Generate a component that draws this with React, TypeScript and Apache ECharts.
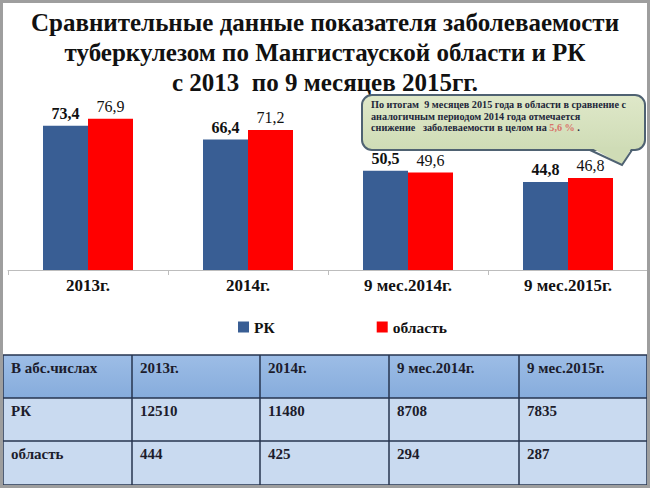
import { useRef, useEffect } from "react";
import * as echarts from "echarts";

const CATEGORIES = ["2013г.", "2014г.", "9 мес.2014г.", "9 мес.2015г."];
const RK_VALUES = [73.4, 66.4, 50.5, 44.8];
const REGION_VALUES = [76.9, 71.2, 49.6, 46.8];
const SERIES_NAMES = ["РК", "область"];

const TABLE_HEAD = ["В абс.числах", "2013г.", "2014г.", "9 мес.2014г.", "9 мес.2015г."];
const TABLE_RK = [12510, 11480, 8708, 7835];
const TABLE_REGION = [444, 425, 294, 287];

const TITLE_LINES = [
  "Сравнительные данные показателя заболеваемости",
  "туберкулезом по Мангистауской области и РК",
  "с 2013  по 9 месяцев 2015гг.",
];

const SERIF = "Liberation Serif";
const BLUE = "#395e94";
const RED = "#ff0000";

const fmt = (v: number) => String(v).replace(".", ",");

export default function App() {
  const chartRef = useRef<HTMLDivElement>(null);

  useEffect(() => {
    document.body.style.margin = "0";
    if (!chartRef.current) return;
    const chart = echarts.init(chartRef.current, null, { renderer: "svg" });

    // table built from the arrays
    const colX = [3, 132, 260, 389, 519, 647];
    const rowY = [355, 398, 441, 485];
    const rows = [TABLE_HEAD, ["РК", ...TABLE_RK.map(String)], ["область", ...TABLE_REGION.map(String)]];
    const tableEls: any[] = [];
    rows.forEach((row, r) => {
      tableEls.push({
        type: "rect",
        shape: { x: colX[0], y: rowY[r], width: colX[5] - colX[0], height: rowY[r + 1] - rowY[r] },
        style: {
          fill: r === 0
            ? new echarts.graphic.LinearGradient(0, 0, 0, 1, [
                { offset: 0, color: "#9dbde6" },
                { offset: 1, color: "#86acdc" },
              ])
            : "#c9daf0",
        },
      });
      row.forEach((txt, c) => {
        tableEls.push({
          type: "text",
          x: colX[c] + 8,
          y: rowY[r] + 13,
          style: {
            text: txt, fontFamily: SERIF, fontWeight: "bold", fontSize: 15,
            fill: "#1c1c2c", verticalAlign: "middle",
          },
        });
      });
    });
    rowY.forEach((y) => {
      tableEls.push({ type: "line", shape: { x1: colX[0], y1: y, x2: colX[5], y2: y }, style: { stroke: "#26344f", lineWidth: 1.5 } });
    });
    colX.forEach((x) => {
      tableEls.push({ type: "line", shape: { x1: x, y1: rowY[0], x2: x, y2: rowY[3] }, style: { stroke: "#26344f", lineWidth: 1.5 } });
    });

    const option: echarts.EChartsOption = {
      animation: false,
      backgroundColor: "#ffffff",
      textStyle: { fontFamily: SERIF },
      grid: { left: 8, right: 2, top: 93, bottom: 218 },
      legend: {
        data: SERIES_NAMES,
        left: 233,
        top: 314,
        itemWidth: 11,
        itemHeight: 11,
        itemGap: 102,
        icon: "rect",
        textStyle: { fontFamily: SERIF, fontWeight: "bold", fontSize: 15.5, color: "#111" },
      },
      xAxis: {
        type: "category",
        data: CATEGORIES,
        axisLine: { lineStyle: { color: "#bdbdbd", width: 1 } },
        axisTick: { show: true, length: 5, lineStyle: { color: "#bdbdbd" } },
        axisLabel: { fontFamily: SERIF, fontWeight: "bold", fontSize: 17, color: "#111", margin: 7 },
      },
      yAxis: { type: "value", min: 0, max: 90, show: false, splitLine: { show: false } },
      series: [
        {
          name: SERIES_NAMES[0],
          type: "bar",
          data: RK_VALUES,
          barGap: "0%",
          barCategoryGap: "43.75%",
          itemStyle: { color: BLUE },
          label: {
            show: true, position: "top", distance: 4, formatter: (p: any) => fmt(p.value),
            fontFamily: SERIF, fontWeight: "bold", fontSize: 16, color: "#111",
          },
        },
        {
          name: SERIES_NAMES[1],
          type: "bar",
          data: REGION_VALUES,
          itemStyle: { color: RED },
          label: {
            show: true, position: "top", distance: 4, formatter: (p: any) => fmt(p.value),
            fontFamily: SERIF, fontSize: 16, color: "#111",
          },
        },
      ],
      graphic: [
        ...TITLE_LINES.map((t, i) => ({
          type: "text" as const,
          x: 325,
          y: 22 + i * 30,
          style: {
            text: t, fontFamily: SERIF, fontWeight: "bold" as const, fontSize: 25,
            fill: "#111", align: "center" as const, verticalAlign: "middle" as const,
          },
        })),
        // callout bubble
        {
          type: "rect",
          shape: { x: 362, y: 95, width: 283, height: 55, r: 10 },
          style: {
            fill: new echarts.graphic.LinearGradient(0, 0, 0, 1, [
              { offset: 0, color: "#dfe8c9" },
              { offset: 1, color: "#cfdcb6" },
            ]),
            stroke: "#4f6272",
            lineWidth: 2,
          },
        },
        { type: "polygon", shape: { points: [[590, 147], [622, 165], [632, 147]] }, style: { fill: "#cfdcb6" } },
        { type: "polyline", shape: { points: [[590, 150], [622, 165], [632, 150]] }, style: { stroke: "#4f6272", lineWidth: 2, fill: "none" } },
        {
          type: "text",
          x: 371,
          y: 99,
          style: {
            text: "По итогам  9 месяцев 2015 года в области в сравнение с\nаналогичным периодом 2014 года отмечается\nснижение   заболеваемости в целом на {r|5,6 %} .",
            fontFamily: SERIF,
            fontWeight: "bold",
            fontSize: 10.2,
            fill: "#22263a",
            lineHeight: 11.5,
            rich: { r: { fill: "#d9736a", fontFamily: SERIF, fontWeight: "bold", fontSize: 10.2 } },
          } as any,
        },
        ...tableEls,
        // slide frame
        { type: "rect", shape: { x: 1.5, y: 1.5, width: 647, height: 485 }, style: { fill: "none", stroke: "#9e9e9e", lineWidth: 3 }, z: 100 },
      ],
    };

    chart.setOption(option);
    return () => chart.dispose();
  }, []);

  return <div ref={chartRef} style={{ width: 650, height: 488 }} />;
}
